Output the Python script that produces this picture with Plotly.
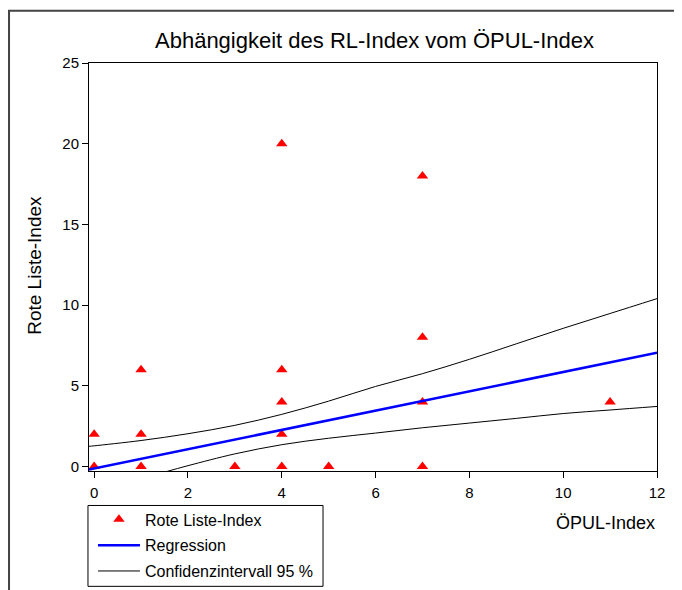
import plotly.graph_objects as go

# data points
opul_x = [0, 0, 1, 1, 1, 3, 4, 4, 4, 4, 4, 5, 7, 7, 7, 7, 11]
rl_y = [0, 2, 0, 2, 6, 0, 0, 2, 4, 6, 20, 0, 0, 4, 8, 18, 4]

# regression line
reg_x = [-0.11, 12]
reg_y = [-0.19, 7.05]

# 95 % confidence band
ci_up_x = [-0.11, 0, 1, 2, 3, 4, 5, 6, 7, 8, 9, 10, 11, 12]
ci_up_y = [1.25, 1.28, 1.61, 2.03, 2.55, 3.23, 4.05, 4.96, 5.75, 6.64, 7.6, 8.56, 9.48, 10.4]
ci_lo_x = [1.5, 2, 3, 4, 5, 6, 7, 8, 9, 10, 11, 12]
ci_lo_y = [-0.35, 0.05, 0.78, 1.35, 1.75, 2.07, 2.4, 2.69, 2.98, 3.28, 3.5, 3.72]

FONT = "Arial, Liberation Sans, sans-serif"

fig = go.Figure()
fig.add_trace(go.Scatter(
    x=opul_x, y=rl_y, mode='markers', name='Rote Liste-Index',
    marker=dict(symbol='triangle-up', size=10, color='#ff0000'),
    cliponaxis=False, legendgroup='a'
))
fig.add_trace(go.Scatter(
    x=reg_x, y=reg_y, mode='lines', name='Regression',
    line=dict(color='#0000ff', width=2.5), legendgroup='b'
))
fig.add_trace(go.Scatter(
    x=ci_up_x, y=ci_up_y, mode='lines', name='Confidenzintervall 95 %',
    line=dict(color='black', width=1, shape='spline'), legendgroup='c'
))
fig.add_trace(go.Scatter(
    x=ci_lo_x, y=ci_lo_y, mode='lines', name='Confidenzintervall 95 %',
    line=dict(color='black', width=1, shape='spline'), legendgroup='c',
    showlegend=False
))

fig.update_layout(
    width=674, height=600,
    margin=dict(l=81, r=25, t=55, b=136.5),
    paper_bgcolor='white', plot_bgcolor='white',
    font=dict(family=FONT, size=15, color='black'),
    showlegend=True,
    legend=dict(
        x=0.007, y=-0.0771, xanchor='left', yanchor='top',
        borderwidth=0, bgcolor='rgba(0,0,0,0)',
        font=dict(size=16), tracegroupgap=2, traceorder='grouped',
        itemwidth=42
    ),
    xaxis=dict(
        range=[-0.11, 12], tickvals=[0, 2, 4, 6, 8, 10, 12],
        showline=True, linecolor='black', linewidth=1, mirror=True,
        ticks='outside', ticklen=6, tickcolor='black', ticklabelstandoff=2,
        showgrid=False, zeroline=False
    ),
    yaxis=dict(
        range=[-0.28, 25], tickvals=[0, 5, 10, 15, 20, 25],
        showline=True, linecolor='black', linewidth=1, mirror=True,
        ticks='outside', ticklen=6, tickcolor='black',
        showgrid=False, zeroline=False
    ),
    annotations=[
        dict(text='Abhängigkeit des RL-Index vom ÖPUL-Index', xref='paper', yref='paper',
             x=0.5035, y=1.0563, xanchor='center', yanchor='middle', showarrow=False,
             font=dict(size=22)),
        dict(text='ÖPUL-Index', xref='paper', yref='paper',
             x=1.0, y=-0.1285, xanchor='right', yanchor='middle', showarrow=False,
             font=dict(size=18)),
        dict(text='Rote Liste-Index', xref='paper', yref='paper',
             x=-0.095, y=0.503, xanchor='center', yanchor='middle', showarrow=False,
             textangle=-90, font=dict(size=19)),
    ],
    shapes=[
        # outer frame
        dict(type='rect', xref='paper', yref='paper',
             x0=-0.1408, x1=1.25, y0=-0.4, y1=1.128,
             line=dict(color='#444444', width=2), layer='below'),
        # legend box
        dict(type='rect', xref='paper', yref='paper',
             x0=-0.0018, x1=0.412, y0=-0.2827, y1=-0.0845,
             line=dict(color='black', width=1), layer='below'),
    ],
)

fig.write_html("out.html")
